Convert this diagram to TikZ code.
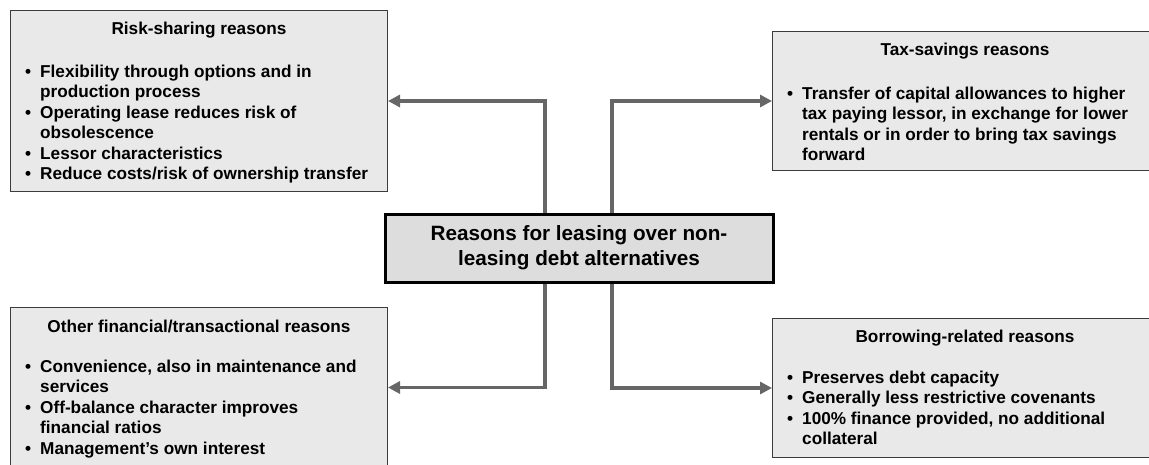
\documentclass[tikz,border=0pt]{standalone}
\usepackage{fontspec}
\setmainfont{Liberation Sans}
\usetikzlibrary{arrows.meta}

\definecolor{boxfill}{RGB}{233,233,233}
\definecolor{hubfill}{RGB}{221,221,221}
\definecolor{boxline}{RGB}{60,60,60}
\definecolor{linkgray}{RGB}{102,102,102}

% bullet with a fixed hanging width
\newcommand{\bul}{\makebox[15pt][l]{\textbullet}}

\tikzset{
  reasonbox/.style={rectangle, draw=boxline, line width=1pt, fill=boxfill,
    inner sep=0pt, anchor=north west},
  hubbox/.style={rectangle, draw=black, line width=3pt, fill=hubfill,
    inner sep=0pt, minimum width=388pt, minimum height=68pt, align=center,
    font=\fontsize{20.7}{25}\selectfont\bfseries},
  heading/.style={anchor=base, inner sep=0pt,
    font=\fontsize{17.2}{20.5}\selectfont\bfseries},
  bullets/.style={anchor=base west, inner sep=0pt,
    font=\fontsize{17.2}{20.5}\selectfont\bfseries},
  link/.style={draw=linkgray, line width=3.3pt,
    -{Triangle[length=12pt,width=12pt]}}
}

\begin{document}
\begin{tikzpicture}[x=1pt,y=-1pt]
\useasboundingbox (0,0) rectangle (1149,464);

% the four reason boxes
\node[reasonbox, minimum width=377pt, minimum height=181pt] (tl) at (10,10) {};
\node[reasonbox, minimum width=385pt, minimum height=139pt] (tr) at (772,31) {};
\node[reasonbox, minimum width=377pt, minimum height=160pt] (bl) at (10,307) {};
\node[reasonbox, minimum width=385pt, minimum height=139pt] (br) at (772,318) {};

% central box
\node[hubbox] (hub) at (579,248) {Reasons for leasing over non-\\leasing debt alternatives};

% headings
\node[heading] (tlHead) at ([yshift=-24pt]tl.north) {Risk-sharing reasons};
\node[heading] (trHead) at ([yshift=-24pt]tr.north) {Tax-savings reasons};
\node[heading] (blHead) at ([yshift=-25pt]bl.north) {Other financial/transactional reasons};
\node[heading] (brHead) at ([yshift=-24pt]br.north) {Borrowing-related reasons};

% bullet lists
\node[bullets] (tlList) at ([xshift=15pt,yshift=-67.3pt]tl.north west) {%
\begin{tabular}[t]{@{}l@{}l@{}}
\bul & Flexibility through options and in\\
     & production process\\
\bul & Operating lease reduces risk of\\
     & obsolescence\\
\bul & Lessor characteristics\\
\bul & Reduce costs/risk of ownership transfer
\end{tabular}};

\node[bullets] (trList) at ([xshift=15pt,yshift=-68pt]tr.north west) {%
\begin{tabular}[t]{@{}l@{}l@{}}
\bul & Transfer of capital allowances to higher\\
     & tax paying lessor, in exchange for lower\\
     & rentals or in order to bring tax savings\\
     & forward
\end{tabular}};

\node[bullets] (blList) at ([xshift=15pt,yshift=-65pt]bl.north west) {%
\begin{tabular}[t]{@{}l@{}l@{}}
\bul & Convenience, also in maintenance and\\
     & services\\
\bul & Off-balance character improves\\
     & financial ratios\\
\bul & Management’s own interest
\end{tabular}};

\node[bullets] (brList) at ([xshift=15pt,yshift=-65.3pt]br.north west) {%
\begin{tabular}[t]{@{}l@{}l@{}}
\bul & Preserves debt capacity\\
\bul & Generally less restrictive covenants\\
\bul & 100\% finance provided, no additional\\
     & collateral
\end{tabular}};

% connectors from the central box
\draw[link] ([xshift=-34pt]hub.north) |- (tl.east);
\draw[link] ([xshift=33pt]hub.north) |- (tr.west);
\draw[link] ([xshift=-34pt]hub.south) |- (bl.east);
\draw[link] ([xshift=33pt]hub.south) |- (br.west);
\end{tikzpicture}
\end{document}
